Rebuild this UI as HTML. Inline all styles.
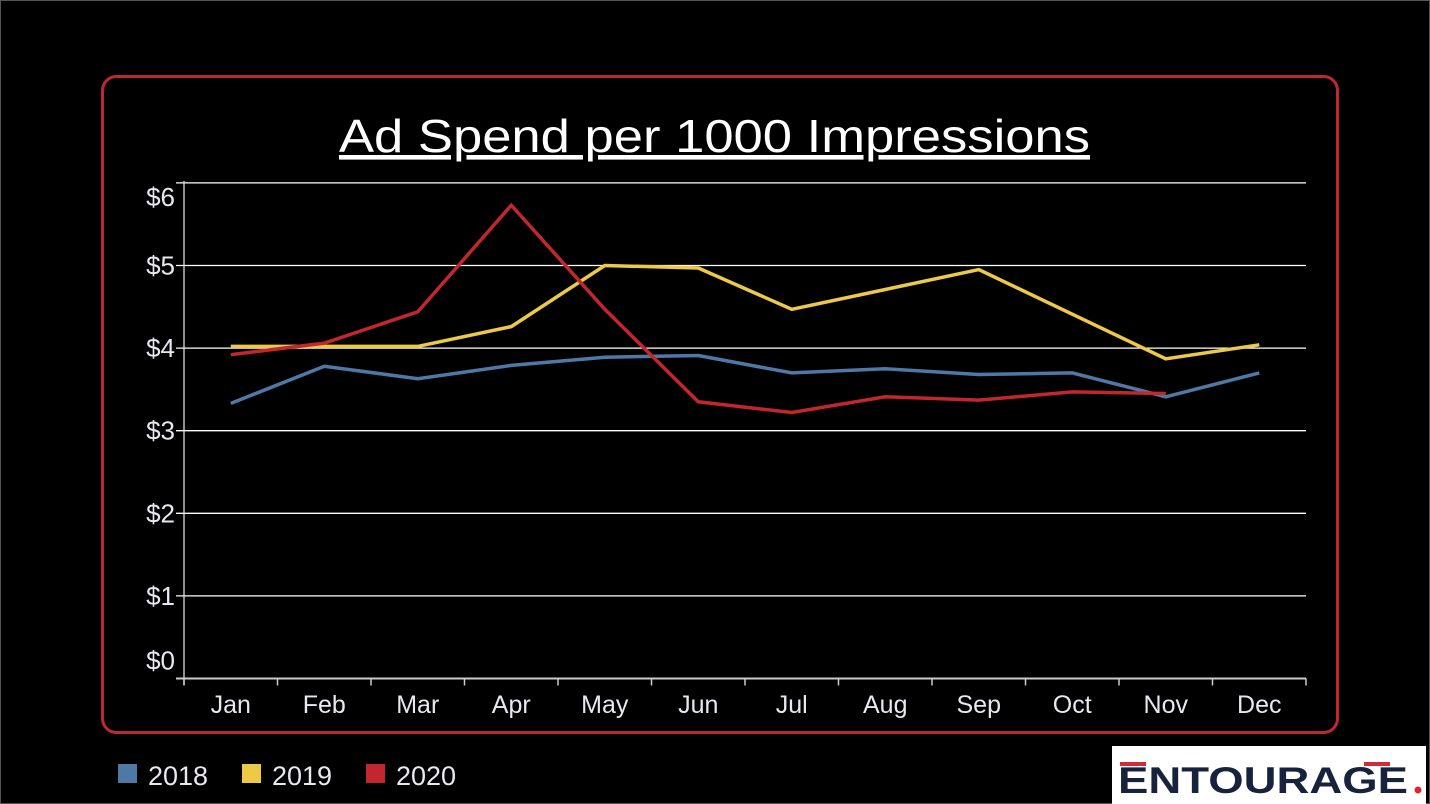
<!DOCTYPE html>
<html><head><meta charset="utf-8"><style>
html,body{margin:0;padding:0;background:#000;width:1430px;height:804px;overflow:hidden;font-family:"Liberation Sans",sans-serif}
</style></head><body>
<svg width="1430" height="804" viewBox="0 0 1430 804" style="display:block">
<rect x="0" y="0" width="1430" height="804" fill="#000"/>
<rect x="0.5" y="0.5" width="1429" height="803" fill="none" stroke="#555" stroke-width="1"/>
<rect x="102.5" y="76.5" width="1235" height="656" rx="14" fill="none" stroke="#c1272d" stroke-width="3"/>
<text x="339" y="152" fill="#fff" font-size="46" text-decoration="underline" textLength="751" lengthAdjust="spacingAndGlyphs">Ad Spend per 1000 Impressions</text>
<g id="grid"></g>
<g id="axes"></g>
<g id="series"></g>
<g>
<rect x="118" y="764" width="19" height="19" fill="#4e79a7"/>
<text x="148" y="785" fill="#e8e8f0" font-size="27">2018</text>
<rect x="242" y="764" width="19" height="19" fill="#edc948"/>
<text x="272" y="785" fill="#e8e8f0" font-size="27">2019</text>
<rect x="366" y="764" width="19" height="19" fill="#c1272d"/>
<text x="396" y="785" fill="#e8e8f0" font-size="27">2020</text>
</g>
<g>
<rect x="1112" y="746" width="314" height="58" fill="#fff"/>
<rect x="1120" y="762" width="26" height="4" fill="#d42a35"/>
<rect x="1364" y="762" width="26" height="4" fill="#d42a35"/>
<text x="1118" y="793" fill="#17233c" font-size="37" font-weight="bold" textLength="290" lengthAdjust="spacingAndGlyphs">ENTOURAGE</text>
<circle cx="1418" cy="790" r="3.5" fill="#d42a35"/>
</g>
</svg>
<script>
const months=["Jan","Feb","Mar","Apr","May","Jun","Jul","Aug","Sep","Oct","Nov","Dec"];
const yTicks=[0,1,2,3,4,5,6];
const yTickLabels=["$0","$1","$2","$3","$4","$5","$6"];
const s2018=[3.33,3.78,3.63,3.79,3.89,3.91,3.70,3.75,3.68,3.70,3.41,3.70];
const s2019=[4.02,4.02,4.02,4.26,5.00,4.97,4.47,4.71,4.95,4.41,3.87,4.04];
const s2020=[3.92,4.06,4.44,5.73,4.47,3.35,3.22,3.41,3.37,3.47,3.45,null];
const NS="http://www.w3.org/2000/svg";
const x0=184,x1=1306,y0=678.5,perUnit=82.6;
const band=(x1-x0)/months.length;
function xs(i){return x0+band*(i+0.5);}
function ys(v){return y0-v*perUnit;}
function mk(t,a,p){const e=document.createElementNS(NS,t);for(const k in a)e.setAttribute(k,a[k]);p.appendChild(e);return e;}
const grid=document.getElementById('grid'),axes=document.getElementById('axes'),ser=document.getElementById('series');
const maxV=yTicks[yTicks.length-1];
yTicks.forEach((v,i)=>{
 if(v>0){const l=mk('line',{x1:x0-8,x2:x1,y1:ys(v),y2:ys(v),stroke:'#fff','stroke-width':1.3},grid);
 
 }
 let off=9; if(v===maxV) off=23; if(v===0) off=-9;
 const t=mk('text',{x:175,y:ys(v)+off,'text-anchor':'end',fill:'#e8e8f0','font-size':26},axes);
 t.textContent=yTickLabels[i];
 
 
});
const ya=mk('line',{x1:x0,x2:x0,y1:ys(6)-2,y2:y0+7,stroke:'#ddd','stroke-width':1.3},axes);


const xa=mk('line',{x1:x0-8,x2:x1,y1:y0,y2:y0,stroke:'#ccc','stroke-width':2},axes);


for(let i=0;i<=months.length;i++){const tk=mk('line',{x1:x0+band*i,x2:x0+band*i,y1:y0,y2:y0+7,stroke:'#ccc','stroke-width':1.5},axes);
 
 }
months.forEach((m,i)=>{const t=mk('text',{x:xs(i),y:713,'text-anchor':'middle',fill:'#e8e8f0','font-size':25},axes);
 t.textContent=m;
 
 });
[[s2018,'#4e79a7','line-2018'],[s2019,'#edc948','line-2019'],[s2020,'#c1272d','line-2020']].forEach(([d,c,n])=>{
 const pts=d.map((v,i)=>v==null?null:xs(i).toFixed(1)+','+ys(v).toFixed(1)).filter(p=>p);
 const p=mk('polyline',{points:pts.join(' '),fill:'none',stroke:c,'stroke-width':3.5,'stroke-linejoin':'miter'},ser);
 
 
});
</script>
</body></html>
